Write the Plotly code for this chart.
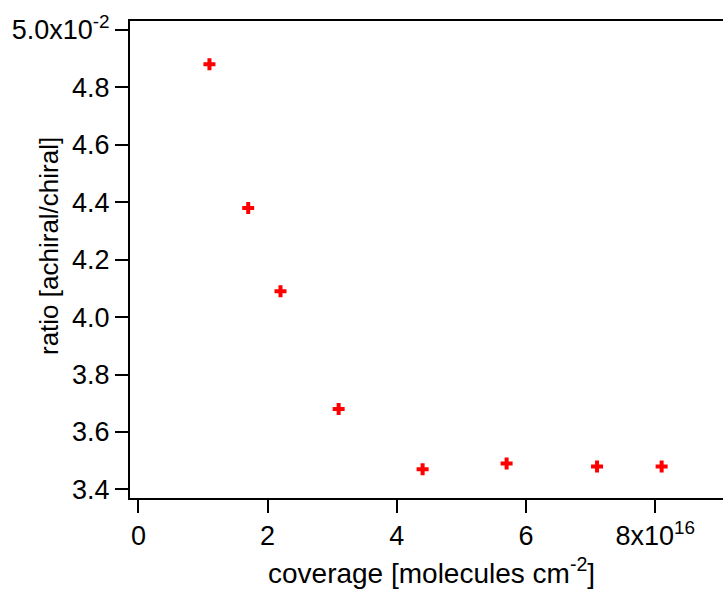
import plotly.graph_objects as go

# data (coverage in molecules cm^-2, ratio)
coverage = [1.1e16, 1.7e16, 2.2e16, 3.1e16, 4.4e16, 5.7e16, 7.1e16, 8.1e16]
ratio = [0.0488, 0.0438, 0.0409, 0.0368, 0.0347, 0.0349, 0.0348, 0.0348]

x_tickvals = [0, 2e16, 4e16, 6e16, 8e16]
x_ticktext = ["0", "2", "4", "6", "8x10<sup>16</sup>"]
y_tickvals = [0.034, 0.036, 0.038, 0.040, 0.042, 0.044, 0.046, 0.048, 0.050]
y_ticktext = ["3.4", "3.6", "3.8", "4.0", "4.2", "4.4", "4.6", "4.8", "5.0x10<sup>-2</sup>"]

x_title = "coverage [molecules cm<sup>-2</sup>]"
y_title = "ratio [achiral/chiral]"

FONT = "Arial, Liberation Sans, sans-serif"

fig = go.Figure()
fig.add_trace(go.Scatter(
    x=coverage, y=ratio, mode="markers",
    marker=dict(symbol="cross", size=10, color="#ff0000", line=dict(width=0)),
    showlegend=False,
))

fig.update_layout(
    width=723, height=592,
    margin=dict(l=130, r=0, t=21, b=94, autoexpand=False),
    paper_bgcolor="white", plot_bgcolor="white",
    font=dict(family=FONT, size=27, color="black"),
)
fig.update_xaxes(
    range=[-0.13e16, 9.05e16],
    tickvals=x_tickvals, ticktext=x_ticktext,
    showgrid=False, zeroline=False, automargin=False,
    showline=True, linecolor="black", linewidth=2, mirror=True,
    ticks="outside", ticklen=13, tickwidth=2, tickcolor="black",
    tickfont=dict(size=27),
)
fig.update_yaxes(
    range=[0.0337, 0.05031],
    tickvals=y_tickvals, ticktext=y_ticktext,
    showgrid=False, zeroline=False, automargin=False,
    showline=True, linecolor="black", linewidth=2, mirror=False,
    ticks="outside", ticklen=13, tickwidth=2, tickcolor="black",
    tickfont=dict(size=27),
)
fig.add_annotation(
    text=y_title, textangle=-90,
    xref="paper", yref="paper", x=(49 - 130) / 593, y=(498 - 246) / 477,
    xanchor="center", yanchor="middle", showarrow=False,
    font=dict(family=FONT, size=26, color="black"),
)
fig.add_annotation(
    text=x_title,
    xref="paper", yref="paper", x=(432 - 130) / 593, y=(498 - 571) / 477,
    xanchor="center", yanchor="middle", showarrow=False,
    font=dict(family=FONT, size=28, color="black"),
)

fig.write_html(
    "out.html",
    config={"displayModeBar": False},
    post_script="document.body.style.margin='0';document.body.style.overflow='hidden';",
)
